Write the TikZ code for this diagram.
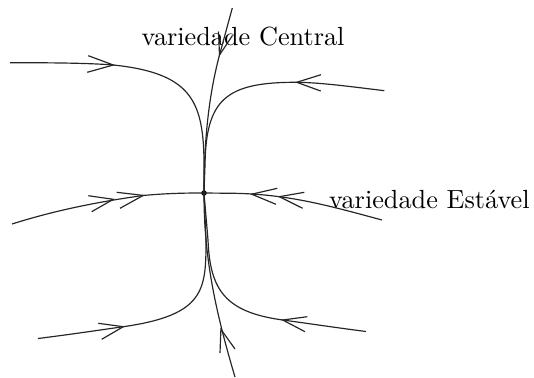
\documentclass[tikz,border=0pt]{standalone}
\begin{document}
\begin{tikzpicture}[x=0.381pt,y=-0.381pt,
  traj/.style={line width=0.45pt,black!85},
  barb/.style={line width=0.45pt,black!85},
  lbl/.style={inner sep=0pt,outer sep=0pt,font=\normalsize}]
\useasboundingbox (0,0) rectangle (534,377);
% equilibrium point
\node[circle,fill=black,inner sep=0pt,minimum size=2.1pt] (O) at (204,193) {};
% labels
\node[lbl,anchor=base west] (lc) at (141.6,45) {variedade Central};
\node[lbl,anchor=base west] (le) at (329.2,208.3) {variedade Est\'avel};
% end points
\coordinate (ctop) at (232.3,8);
\coordinate (cbot) at (235,377);
\coordinate (ul) at (10,62.7);
\coordinate (ur) at (384.3,90.7);
\coordinate (sl) at (12,224);
\coordinate (sr) at (382,220);
\coordinate (ll) at (38,338.5);
\coordinate (lr) at (366,331.5);
% central manifold
\draw[traj] (ctop) -- (219.5,55) .. controls (211,87) and (204,130) .. (O.center);
\draw[traj] (O.center) .. controls (204,250) and (212,300) .. (cbot);
% stable manifold
\draw[traj] (sl) .. controls (50,212) and (90,203) .. (143,195.5)
  .. controls (170,193) and (190,193) .. (O.center);
\draw[traj] (O.center) -- (235,193.3) .. controls (290,194.5) and (330,206) .. (sr);
% upper trajectories
\draw[traj] (ul) .. controls (60,62.7) and (90,63.2) .. (113.3,65)
  .. controls (190,73) and (203,100) .. (204,160) -- (O.center);
\draw[traj] (ur) .. controls (350,86.5) and (320,82.5) .. (296.7,82.3)
  .. controls (225,82) and (206,100) .. (205,165) -- (O.center);
% lower trajectories
\draw[traj] (ll) .. controls (70,334.5) and (100,330) .. (123.3,326.7)
  .. controls (205,315) and (206,290) .. (206,240) -- (O.center);
\draw[traj] (lr) .. controls (335,327.5) and (305,323) .. (282.7,320)
  .. controls (225,312) and (210,290) .. (208,240) -- (O.center);
% arrowheads
\draw[barb] (88.3,55.7) -- (113.3,65) -- (87.3,72.3);
\draw[barb] (321,74.7) -- (296.7,82.3) -- (320.7,91);
\draw[barb] (232.5,35.5) -- (219.5,55) -- (218.5,31.5);
\draw[barb] (220,353) -- (220.9,329.3) -- (235,349);
\draw[barb] (88.3,195.7) -- (113.3,199.3) -- (91.7,211.7);
\draw[barb] (116.7,192.3) -- (143.3,195.4) -- (120,208.3);
\draw[barb] (277.3,188.3) -- (251.7,194.2) -- (276,204.3);
\draw[barb] (304.3,192.3) -- (279.3,196.7) -- (302.7,208.3);
\draw[barb] (98.3,323.3) -- (123.3,326.7) -- (101.7,339.3);
\draw[barb] (307.3,316.7) -- (282.7,320) -- (305,331.7);
\end{tikzpicture}
\end{document}
